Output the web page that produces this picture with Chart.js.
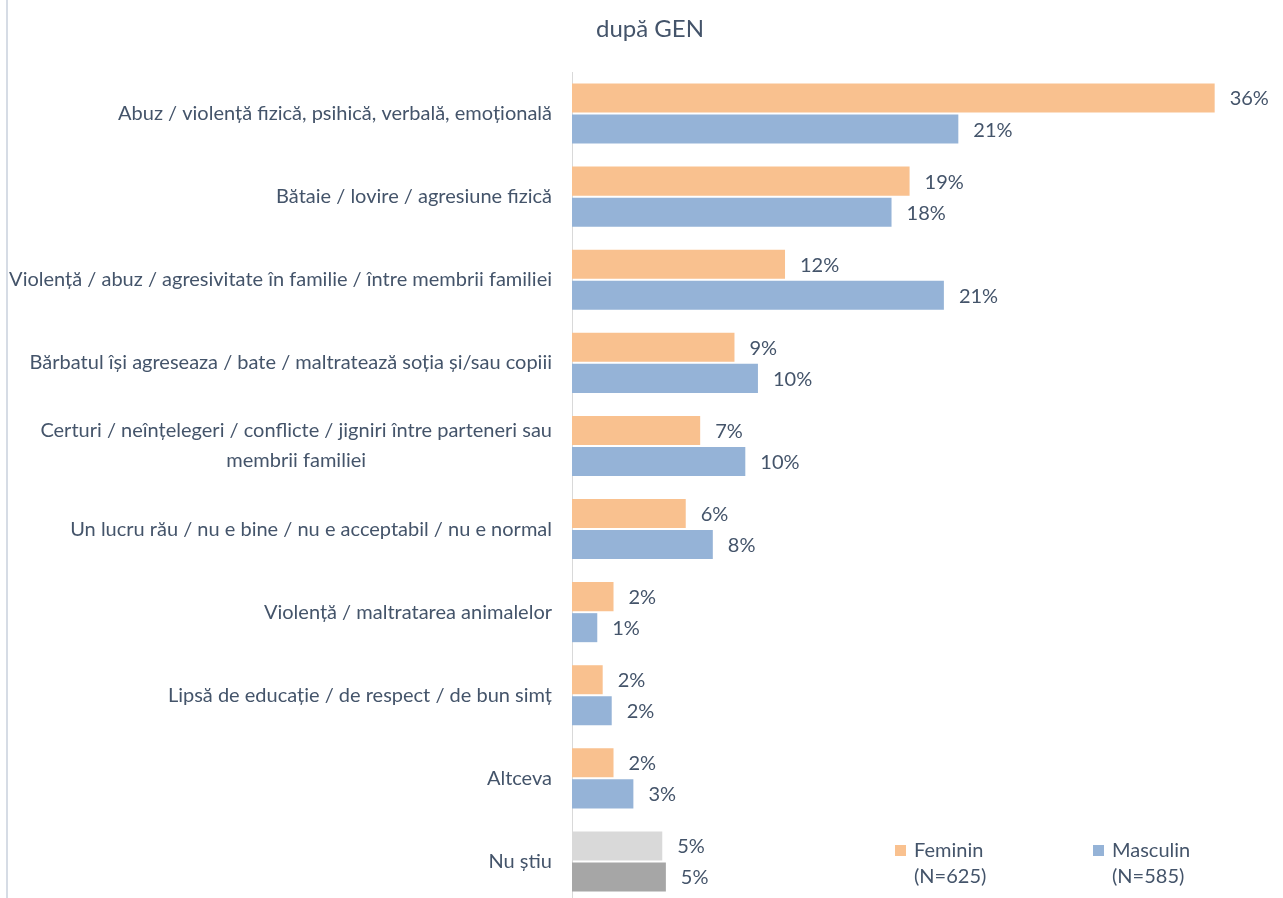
<!DOCTYPE html>
<html>
<head>
<meta charset="utf-8">
<script src="https://cdn.jsdelivr.net/npm/chart.js@4/dist/chart.umd.min.js"></script>
<style>
  html, body { margin: 0; padding: 0; background: #ffffff; overflow: hidden; }
  #wrap { position: relative; width: 1283px; height: 910px; }
</style>
</head>
<body>
<div id="wrap"><canvas id="c" width="1283" height="910"></canvas></div>
<script>
const chartTitle = 'după GEN';
const categories = [
  ['Abuz / violență fizică, psihică, verbală, emoțională'],
  ['Bătaie / lovire / agresiune fizică'],
  ['Violență / abuz / agresivitate în familie / între membrii familiei'],
  ['Bărbatul își agreseaza / bate / maltratează soția și/sau copiii'],
  ['Certuri / neînțelegeri / conflicte / jigniri între parteneri sau', 'membrii familiei'],
  ['Un lucru rău / nu e bine / nu e acceptabil / nu e normal'],
  ['Violență / maltratarea animalelor'],
  ['Lipsă de educație / de respect / de bun simț'],
  ['Altceva'],
  ['Nu știu']
];
const feminin = [35.6, 18.7, 11.8, 9.0, 7.1, 6.3, 2.3, 1.7, 2.3, 5.0];
const masculin = [21.4, 17.7, 20.6, 10.3, 9.6, 7.8, 1.4, 2.2, 3.4, 5.2];
const seriesNames = ['Feminin', 'Masculin'];
const seriesNotes = ['(N=625)', '(N=585)'];

const ORANGE = '#F9C18F';
const BLUE = '#95B3D7';
const LIGHTGRAY = '#D9D9D9';
const DARKGRAY = '#A6A6A6';
const TEXT = '#44546A';
const FONT = 'Lato, "Open Sans", sans-serif';
const FS = 20;

const femColors = feminin.map((v, i) => i === feminin.length - 1 ? LIGHTGRAY : ORANGE);
const mascColors = masculin.map((v, i) => i === masculin.length - 1 ? DARKGRAY : BLUE);

const customDraw = {
  id: 'customDraw',
  afterDraw(chart) {
    const ctx = chart.ctx;
    const area = chart.chartArea;
    const yScale = chart.scales.y;
    ctx.save();
    // frame line at left
    ctx.strokeStyle = '#D6DCE5';
    ctx.lineWidth = 2;
    ctx.beginPath();
    ctx.moveTo(7, 0); ctx.lineTo(7, chart.height);
    ctx.stroke();

    // title
    ctx.fillStyle = TEXT;
    ctx.font = '24px ' + FONT;
    ctx.textAlign = 'center';
    ctx.textBaseline = 'middle';
    ctx.fillText(chartTitle, 650, 29);

    // category labels (block right aligned, lines centered within block)
    ctx.font = FS + 'px ' + FONT;
    const lh = 30;
    categories.forEach((lines, i) => {
      const yc = yScale.getPixelForValue(i);
      const widths = lines.map(t => ctx.measureText(t).width);
      const bw = Math.max(...widths);
      const right = area.left - 20;
      const cx = right - bw / 2;
      ctx.textAlign = 'center';
      lines.forEach((t, k) => {
        const y = yc + (k - (lines.length - 1) / 2) * lh;
        ctx.fillText(t, cx, y);
      });
    });

    // value labels
    ctx.textAlign = 'left';
    chart.data.datasets.forEach((ds, di) => {
      const meta = chart.getDatasetMeta(di);
      meta.data.forEach((bar, i) => {
        const v = ds.data[i];
        ctx.fillText(Math.round(v) + '%', bar.x + 15, bar.y + 1);
      });
    });

    // legend
    const legendX = [895, 1093];
    const colors = [ORANGE, BLUE];
    seriesNames.forEach((name, i) => {
      ctx.fillStyle = colors[i];
      ctx.fillRect(legendX[i], 845, 11, 11);
      ctx.fillStyle = TEXT;
      ctx.textAlign = 'left';
      ctx.fillText(name, legendX[i] + 19, 851);
      ctx.fillText(seriesNotes[i], legendX[i] + 19, 877);
    });
    ctx.restore();
  }
};

new Chart(document.getElementById('c'), {
  type: 'bar',
  data: {
    labels: categories,
    datasets: [
      { label: seriesNames[0], data: feminin, backgroundColor: femColors, borderWidth: 0,
        categoryPercentage: 0.747, barPercentage: 0.935 },
      { label: seriesNames[1], data: masculin, backgroundColor: mascColors, borderWidth: 0,
        categoryPercentage: 0.747, barPercentage: 0.935 }
    ]
  },
  options: {
    indexAxis: 'y',
    responsive: false,
    animation: false,
    layout: { padding: { left: 572, right: 25, top: 72, bottom: 7 } },
    plugins: { legend: { display: false }, tooltip: { enabled: false }, title: { display: false } },
    scales: {
      x: { display: false, min: 0, max: 38 },
      y: {
        display: true,
        afterFit: s => { s.width = 0; },
        ticks: { display: false },
        grid: { display: false, drawTicks: false },
        border: { display: true, color: '#D9D9D9', width: 1 }
      }
    }
  },
  plugins: [customDraw]
});
</script>
</body>
</html>
